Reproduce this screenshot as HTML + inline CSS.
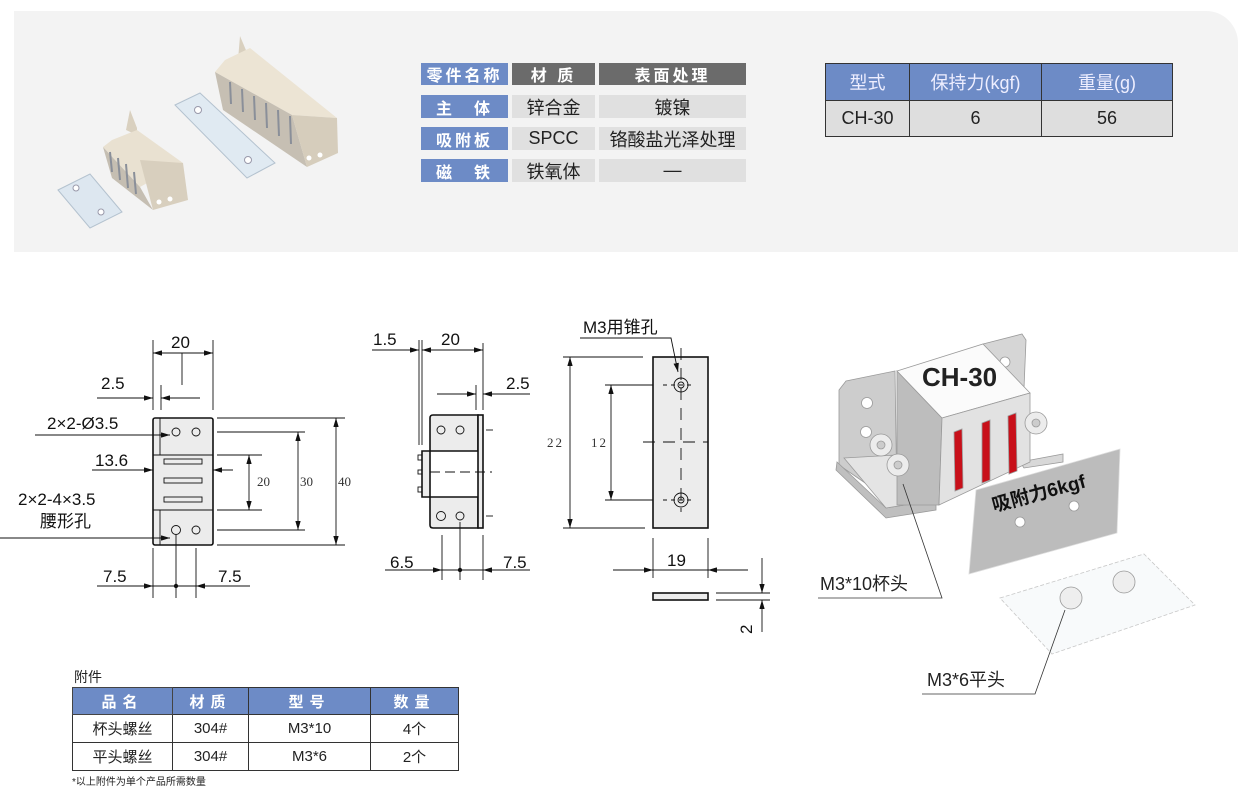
<!DOCTYPE html>
<html><head><meta charset="utf-8"><style>
body{margin:0;width:1242px;height:802px;background:#fff;overflow:hidden;font-family:"Liberation Sans","Noto Sans CJK SC",sans-serif;position:relative}
.band{position:absolute;left:14px;top:11px;width:1224px;height:241px;background:#f3f3f3;border-top-right-radius:32px}
.c{position:absolute;display:flex;align-items:center;justify-content:center;font-size:18px;color:#222}
.b{background:#6d8bc6;color:#fff;font-weight:bold;letter-spacing:3px;font-size:16px}
.g{background:#6b6b6b;color:#fff;font-weight:bold;letter-spacing:3px;font-size:16px}
.l{background:#e0e0e0}
table{border-collapse:collapse;position:absolute}
td{border:1.5px solid #333;text-align:center;padding:0}
</style></head><body>
<div class="band"></div>
<div class="c b" style="left:421px;top:63px;width:87px;height:22px">零件名称</div>
<div class="c g" style="left:512px;top:63px;width:83px;height:22px">材 质</div>
<div class="c g" style="left:599px;top:63px;width:147px;height:22px">表面处理</div>
<div class="c b" style="left:421px;top:95px;width:87px;height:23px">主　体</div>
<div class="c l" style="left:512px;top:95px;width:83px;height:23px">锌合金</div>
<div class="c l" style="left:599px;top:95px;width:147px;height:23px">镀镍</div>
<div class="c b" style="left:421px;top:127px;width:87px;height:23px">吸附板</div>
<div class="c l" style="left:512px;top:127px;width:83px;height:23px">SPCC</div>
<div class="c l" style="left:599px;top:127px;width:147px;height:23px">铬酸盐光泽处理</div>
<div class="c b" style="left:421px;top:159px;width:87px;height:23px">磁　铁</div>
<div class="c l" style="left:512px;top:159px;width:83px;height:23px">铁氧体</div>
<div class="c l" style="left:599px;top:159px;width:147px;height:23px">—</div>
<table style="left:825px;top:63px;width:348px;font-size:18px;color:#222">
<tr style="height:37px;background:#6d8bc6;color:#eef"><td style="width:83px">型式</td><td style="width:131px">保持力(kgf)</td><td>重量(g)</td></tr>
<tr style="height:36px;background:#dedede"><td>CH-30</td><td>6</td><td>56</td></tr>
</table>
<!-- product photo -->
<svg style="position:absolute;left:0;top:0" width="400" height="250">
<polygon points="58,190 90,174 122,212 90,228" fill="#dde7f0" stroke="#b4c2cf"/>
<circle cx="76" cy="188" r="3" fill="#fff" stroke="#99a"/><circle cx="101" cy="212" r="3" fill="#fff" stroke="#99a"/>
<polygon points="130,110 137,128 137,135 126,130" fill="#d9d0bf"/>
<polygon points="103,147 112,140 137,130 183,163 140,187" fill="#e9e1d1"/>
<polygon points="103,147 140,187 153,210 112,178" fill="#c5beb2"/>
<g stroke="#8a8f99" stroke-width="2"><line x1="110" y1="152" x2="112" y2="172"/><line x1="118" y1="158" x2="120" y2="180"/><line x1="126" y1="164" x2="128" y2="188"/><line x1="134" y1="172" x2="136" y2="194"/></g>
<polygon points="140,160 183,163 188,200 153,210" fill="#d8cfbe"/>
<circle cx="159" cy="202" r="2.5" fill="#fff"/><circle cx="170" cy="199" r="2.5" fill="#fff"/>
<polygon points="175,105 200,93 275,163 247,178" fill="#e0eaf2" stroke="#b4c2cf"/>
<circle cx="198" cy="110" r="3.5" fill="#fff" stroke="#99a"/><circle cx="248" cy="160" r="3.5" fill="#fff" stroke="#99a"/>
<polygon points="240,36 248,55 248,62 238,60" fill="#d9d0bf"/>
<polygon points="215,72 225,60 250,48 337,118 292,115" fill="#ece4d4"/>
<polygon points="215,72 292,115 307,167 223,110" fill="#c6bfb3"/>
<g stroke="#8a8f99" stroke-width="2"><line x1="230" y1="82" x2="231" y2="104"/><line x1="242" y1="89" x2="243" y2="112"/><line x1="254" y1="96" x2="255" y2="120"/><line x1="266" y1="103" x2="267" y2="128"/><line x1="278" y1="110" x2="279" y2="136"/><line x1="290" y1="116" x2="291" y2="144"/></g>
<polygon points="292,115 337,118 338,153 307,167" fill="#d6cdbc"/>
<circle cx="309" cy="158" r="2.5" fill="#fff"/><circle cx="320" cy="155" r="2.5" fill="#fff"/>
</svg>
<svg style="position:absolute;left:0;top:0" width="1242" height="802" font-family="Liberation Sans, sans-serif">
<defs><marker id="a" viewBox="0 0 10 6" refX="10" refY="3" markerWidth="10" markerHeight="6" orient="auto-start-reverse"><path d="M0,0L10,3L0,6z" fill="#111"/></marker></defs>
<g stroke="#111" stroke-width="0.9" fill="none">
<rect x="153" y="418" width="60" height="127" fill="#ececec" stroke-width="1.6" rx="2"/>
<line x1="153" y1="455" x2="213" y2="455"/><line x1="153" y1="510" x2="213" y2="510"/>
<line x1="160" y1="418" x2="160" y2="455"/><line x1="160" y1="510" x2="160" y2="545"/>
<circle cx="176" cy="432" r="4"/><circle cx="196" cy="432" r="4"/><circle cx="176" cy="530" r="4.5"/><circle cx="196" cy="530" r="4"/>
<rect x="164" y="459" width="38" height="5"/><rect x="164" y="478" width="38" height="5"/><rect x="164" y="497" width="38" height="5"/>
<line x1="153" y1="340" x2="153" y2="410"/><line x1="213" y1="340" x2="213" y2="410"/><line x1="161" y1="385" x2="161" y2="410"/>
<line x1="153" y1="353" x2="213" y2="353" marker-start="url(#a)" marker-end="url(#a)"/>
<line x1="182" y1="353" x2="182" y2="385"/>
<line x1="97" y1="398" x2="153" y2="398" marker-end="url(#a)"/><line x1="161" y1="398" x2="200" y2="398"/><line x1="185" y1="398" x2="161" y2="398" marker-end="url(#a)"/>
<line x1="35" y1="435" x2="170" y2="435" marker-end="url(#a)"/>
<line x1="92" y1="470" x2="153" y2="470" marker-end="url(#a)"/><line x1="233" y1="470" x2="213" y2="470" marker-end="url(#a)"/>
<line x1="0" y1="538" x2="170" y2="538" marker-end="url(#a)"/>
<line x1="217" y1="418" x2="345" y2="418"/><line x1="217" y1="432" x2="305" y2="432"/><line x1="217" y1="455" x2="262" y2="455"/>
<line x1="217" y1="510" x2="262" y2="510"/><line x1="217" y1="530" x2="305" y2="530"/><line x1="217" y1="545" x2="345" y2="545"/>
<line x1="249" y1="455" x2="249" y2="510" marker-start="url(#a)" marker-end="url(#a)"/>
<line x1="298" y1="432" x2="298" y2="530" marker-start="url(#a)" marker-end="url(#a)"/>
<line x1="336" y1="418" x2="336" y2="545" marker-start="url(#a)" marker-end="url(#a)"/>
<line x1="153" y1="548" x2="153" y2="598"/><line x1="176" y1="535" x2="176" y2="598"/><line x1="196" y1="548" x2="196" y2="598"/>
<line x1="97" y1="586" x2="153" y2="586" marker-end="url(#a)"/><line x1="250" y1="586" x2="196" y2="586" marker-end="url(#a)"/><line x1="153" y1="586" x2="196" y2="586"/>
<path d="M430,418 q0,-3 3,-3 H478 V451 H422 V497 H478 V528 H433 q-3,0 -3,-3 Z" fill="#ececec" stroke-width="1.6"/>
<rect x="478" y="415" width="5" height="113" fill="#ececec" stroke-width="1.6"/>
<line x1="430" y1="451" x2="430" y2="497"/>
<rect x="418" y="455" width="4" height="5"/><rect x="418" y="470" width="4" height="4"/><rect x="418" y="487" width="4" height="5"/>
<circle cx="441" cy="430" r="4"/><circle cx="460" cy="430" r="4"/><circle cx="441" cy="516" r="4.5"/><circle cx="460" cy="516" r="4"/>
<line x1="430" y1="472" x2="492" y2="472" stroke-dasharray="10,5"/>
<line x1="486" y1="430" x2="493" y2="430"/><line x1="486" y1="516" x2="493" y2="516"/>
<line x1="419" y1="340" x2="419" y2="445"/><line x1="422" y1="340" x2="422" y2="445"/><line x1="483" y1="343" x2="483" y2="410"/><line x1="476" y1="385" x2="476" y2="410"/>
<line x1="372" y1="350" x2="419" y2="350" marker-end="url(#a)"/><line x1="422" y1="350" x2="483" y2="350" marker-start="url(#a)" marker-end="url(#a)"/>
<line x1="437" y1="394" x2="476" y2="394" marker-end="url(#a)"/><line x1="530" y1="394" x2="483" y2="394" marker-end="url(#a)"/>
<line x1="442" y1="535" x2="442" y2="580"/><line x1="460" y1="522" x2="460" y2="580"/><line x1="483" y1="535" x2="483" y2="580"/>
<line x1="385" y1="570" x2="442" y2="570" marker-end="url(#a)"/><line x1="530" y1="570" x2="483" y2="570" marker-end="url(#a)"/><line x1="442" y1="570" x2="483" y2="570"/>
<rect x="653" y="357" width="55" height="171" fill="#ececec" stroke-width="1.6"/>
<circle cx="681" cy="385" r="7"/><circle cx="681" cy="385" r="3"/><circle cx="681" cy="500" r="7"/><circle cx="681" cy="500" r="3"/>
<line x1="681" y1="348" x2="681" y2="512" stroke-dasharray="12,8"/><line x1="643" y1="442" x2="708" y2="442" stroke-dasharray="12,8"/>
<line x1="663" y1="385" x2="695" y2="385" stroke-dasharray="4,4"/><line x1="663" y1="500" x2="695" y2="500" stroke-dasharray="4,4"/>
<line x1="563" y1="357" x2="643" y2="357"/><line x1="563" y1="528" x2="645" y2="528"/>
<line x1="605" y1="385" x2="653" y2="385"/><line x1="605" y1="500" x2="653" y2="500"/>
<line x1="570" y1="357" x2="570" y2="528" marker-start="url(#a)" marker-end="url(#a)"/>
<line x1="611" y1="385" x2="611" y2="500" marker-start="url(#a)" marker-end="url(#a)"/>
<polyline points="580,338 671,338 678,372" marker-end="url(#a)"/>
<line x1="653" y1="538" x2="653" y2="578"/><line x1="708" y1="538" x2="708" y2="578"/>
<line x1="613" y1="570" x2="653" y2="570" marker-end="url(#a)"/><line x1="748" y1="570" x2="708" y2="570" marker-end="url(#a)"/><line x1="653" y1="570" x2="708" y2="570"/>
<rect x="653" y="593" width="55" height="7" fill="#ececec" stroke-width="1.6"/>
<line x1="716" y1="593" x2="770" y2="593"/><line x1="716" y1="600" x2="770" y2="600"/>
<line x1="762" y1="558" x2="762" y2="593" marker-end="url(#a)"/><line x1="762" y1="632" x2="762" y2="600" marker-end="url(#a)"/>
</g>
<g fill="#111" font-size="17">
<text x="171" y="348">20</text><text x="101" y="389">2.5</text>
<text x="47" y="429">2×2-Ø3.5</text><text x="95" y="466">13.6</text>
<text x="18" y="505">2×2-4×3.5</text><text x="40" y="527" font-family="Noto Sans CJK SC">腰形孔</text>
<text x="103" y="582">7.5</text><text x="218" y="582">7.5</text>
<text x="373" y="345">1.5</text><text x="441" y="345">20</text><text x="506" y="389">2.5</text>
<text x="390" y="568">6.5</text><text x="503" y="568">7.5</text>
<text x="583" y="333">M3用锥孔</text><text x="667" y="566">19</text>
<text transform="translate(752,634) rotate(-90)">2</text>
<circle cx="176" cy="586" r="2.2"/><circle cx="460" cy="570" r="2.2"/>
</g>
<g fill="#333" font-size="13" font-family="Liberation Serif, serif">
<text x="257" y="486">20</text><text x="300" y="486">30</text><text x="338" y="486">40</text>
<text x="547" y="447" letter-spacing="2">22</text><text x="591" y="447" letter-spacing="2">12</text>
</g>
<!-- 3D render -->
<g stroke="#9a9a9a" stroke-width="0.8">
<polygon points="983,344 1022,334 1026,340 1024,388 1003,392" fill="#d6d6d6"/>
<circle cx="1005" cy="362" r="5" fill="#fff"/>
<polygon points="839,390 846,381 895,371 897,505 839,465" fill="#cdcdcd"/>
<circle cx="867" cy="403" r="5.5" fill="#fff"/><circle cx="866" cy="432" r="5.5" fill="#fff"/>
<polygon points="837,462 886,508 936,500 936,510 886,518 836,470" fill="#bfbfbf"/>
<polygon points="844,458 897,455 936,490 936,500 886,508" fill="#e4e4e4"/>
<polygon points="1020,462 1063,454 1063,462 1024,468" fill="#d8d8d8"/>
<polygon points="897,371 942,418 939,505 897,505" fill="#bdbdbd"/>
<polygon points="897,371 983,344 1030,393 942,418" fill="#fbfbfb"/>
<polygon points="942,418 1030,393 1030,462 939,505" fill="#e2e2e2"/>
<polygon points="954,432 962,429 963,488 955,491" fill="#c8101a"/>
<polygon points="982,423 990,420 990,480 982,483" fill="#c8101a"/>
<polygon points="1008,416 1016,413 1017,471 1009,474" fill="#c8101a"/>
<circle cx="881" cy="445" r="11" fill="#ececec"/><circle cx="881" cy="445" r="4" fill="#ccc"/>
<circle cx="898" cy="465" r="11" fill="#ececec"/><circle cx="898" cy="465" r="4" fill="#ccc"/>
<circle cx="1036" cy="423" r="11" fill="#ececec"/><circle cx="1036" cy="423" r="4" fill="#ccc"/>
<polygon points="976,490 1120,449 1117,533 969,574" fill="#bcbcbc" stroke="#ddd"/>
<circle cx="1020" cy="522" r="5" fill="#fff"/><circle cx="1074" cy="506" r="5" fill="#fff"/>
<polygon points="1000,598 1144,554 1195,605 1052,654" fill="#f8fafb" stroke="#c8c8c8" stroke-dasharray="4,2"/>
<circle cx="1071" cy="598" r="11" fill="#eee"/><circle cx="1124" cy="582" r="11" fill="#eee"/>
</g>
<text x="922" y="386" font-size="26" font-weight="bold" fill="#222">CH-30</text>
<text transform="translate(994,512) rotate(-15)" font-size="19" font-weight="bold" fill="#111" font-family="Liberation Sans, Noto Sans CJK SC, sans-serif">吸附力6kgf</text>
<g stroke="#333" stroke-width="0.8" fill="none"><polyline points="818,598 942,598 903,484"/><polyline points="922,694 1035,694 1065,610"/></g>
<text x="820" y="590" font-size="18" fill="#222">M3*10杯头</text>
<text x="927" y="686" font-size="18" fill="#222">M3*6平头</text>
</svg>
<div style="position:absolute;left:74px;top:667px;font-size:14px;color:#222">附件</div>
<table style="left:72px;top:687px;width:387px;font-size:15px;color:#222">
<tr style="height:27px;background:#6d8bc6;color:#fff;font-weight:bold;letter-spacing:6px"><td style="width:99px;border-color:#444">品名</td><td style="width:75px">材质</td><td style="width:121px">型号</td><td>数量</td></tr>
<tr style="height:28px"><td>杯头螺丝</td><td>304#</td><td>M3*10</td><td>4个</td></tr>
<tr style="height:28px"><td>平头螺丝</td><td>304#</td><td>M3*6</td><td>2个</td></tr>
</table>
<div style="position:absolute;left:72px;top:773px;font-size:10px;color:#222">*以上附件为单个产品所需数量</div>
</body></html>
